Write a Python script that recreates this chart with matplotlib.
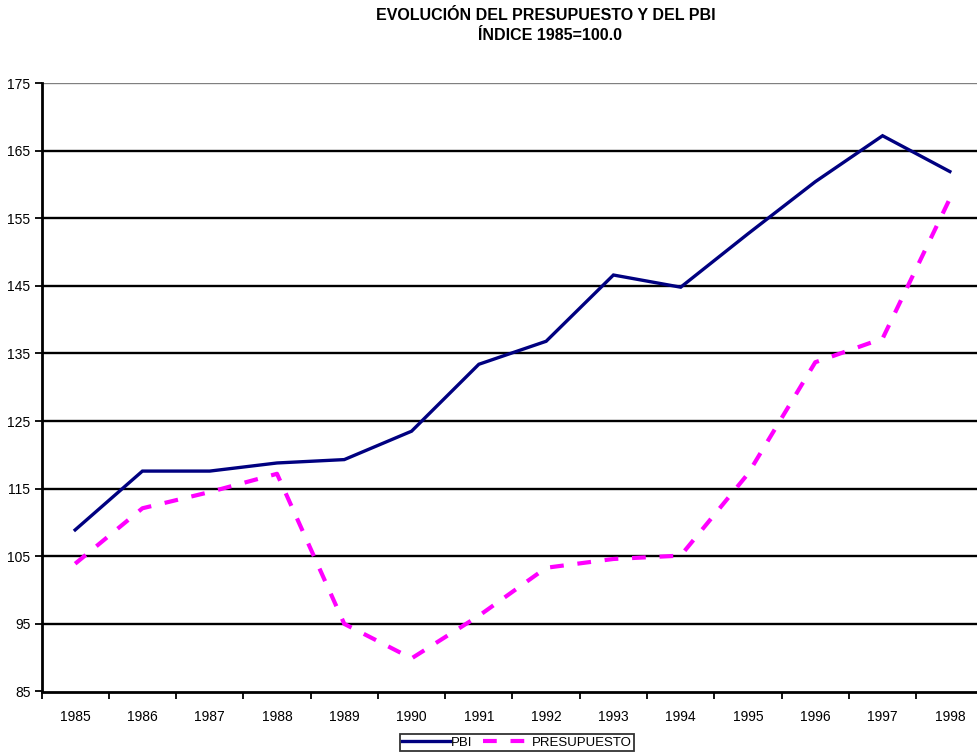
import matplotlib
matplotlib.use("Agg")
import matplotlib.pyplot as plt
import numpy as np

plt.rcParams['font.family'] = ['Liberation Sans', 'DejaVu Sans']

# datos (indice 1985 = 100)
anios = ['1985', '1986', '1987', '1988', '1989', '1990', '1991',
         '1992', '1993', '1994', '1995', '1996', '1997', '1998']
pbi = [108.9, 117.6, 117.6, 118.8, 119.3, 123.5, 133.4,
       136.8, 146.6, 144.8, 152.7, 160.4, 167.2, 161.9]
presupuesto = [103.9, 112.1, 114.5, 117.2, 95.0, 89.9, 96.2,
               103.3, 104.6, 105.1, 117.2, 133.7, 137.2, 157.9]
y_ticks = list(range(85, 176, 10))

W, H = 977, 756
fig = plt.figure(figsize=(W / 100, H / 100), dpi=100)
ax = fig.add_axes([41.5 / W, 1 - 691.5 / H, 942 / W, 608.5 / H])

x = np.arange(len(anios))
ax.plot(x, pbi, color='#000080', lw=2.4, label='PBI', zorder=3,
        solid_joinstyle='miter')
ax.plot(x, presupuesto, color='#FF00FF', lw=3, dashes=(3.3, 3.3),
        label='PRESUPUESTO', zorder=3)

ax.set_xlim(-0.5, len(anios) - 0.5)
ax.set_ylim(85, 175)
ax.set_yticks(y_ticks)
ax.set_xticks(x)
ax.set_xticklabels(anios)
ax.set_xticks(np.arange(-0.5, len(anios), 1), minor=True)
ax.tick_params(axis='x', which='major', length=0, pad=13, labelsize=10)
ax.tick_params(axis='x', which='minor', length=5, width=1.3, direction='out')
ax.tick_params(axis='y', length=5, width=1.3, labelsize=10, pad=3)

# lineas de division horizontales
for v in y_ticks[1:]:
    ax.axhline(v, color='black' if v < 175 else '#808080', lw=1.7, zorder=1)

for s in ['top', 'right']:
    ax.spines[s].set_visible(False)
for s in ['left', 'bottom']:
    ax.spines[s].set_linewidth(2)
    ax.spines[s].set_color('black')

fig.text(546 / W, 1 - 16 / H, 'EVOLUCIÓN DEL PRESUPUESTO Y DEL PBI',
         ha='center', va='center', fontsize=11.5, fontweight='bold')
fig.text(550 / W, 1 - 36 / H, 'ÍNDICE 1985=100.0',
         ha='center', va='center', fontsize=11.5, fontweight='bold')

leg = fig.legend(loc='center', bbox_to_anchor=(517 / W, 1 - 742.5 / H), ncol=2,
                 fontsize=9.5, frameon=True, fancybox=False, handlelength=3.6,
                 borderpad=0.15, columnspacing=0.8, handletextpad=0.1)
leg.get_frame().set_edgecolor('black')
leg.get_frame().set_linewidth(1.3)

fig.savefig('out.png', dpi=100)
